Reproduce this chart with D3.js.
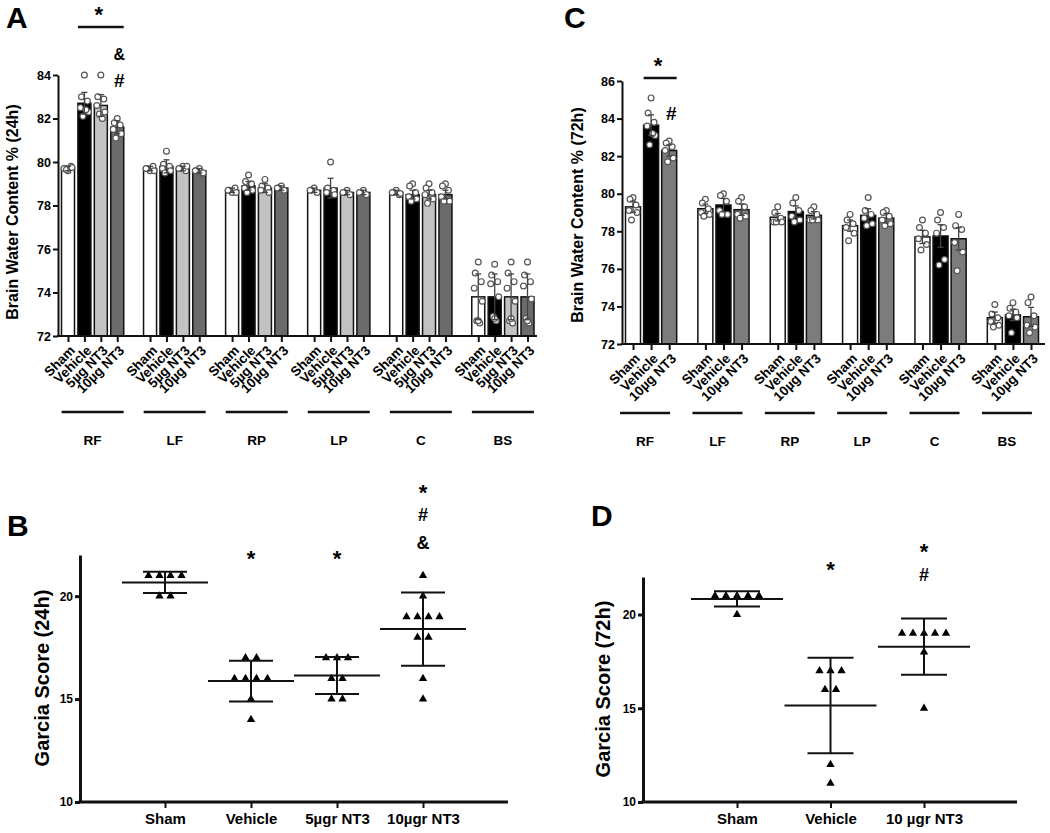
<!DOCTYPE html>
<html>
<head>
<meta charset="utf-8">
<script src="https://cdn.jsdelivr.net/npm/d3@7"></script>
<style>
  body { margin: 0; background: #fff; }
  text { font-family: Arial, "Liberation Sans", sans-serif; font-weight: bold; }
</style>
</head>
<body>
<div id="fig"></div>
<script>
// ---- data ----
var regions = ["RF", "LF", "RP", "LP", "C", "BS"];

var groups24 = ["Sham", "Vehicle", "5µg NT3", "10µg NT3"];
var means24 = [
  [79.7, 82.7, 82.6, 81.6],
  [79.7, 79.8, 79.7, 79.6],
  [78.7, 78.9, 78.8, 78.8],
  [78.7, 78.8, 78.6, 78.6],
  [78.6, 78.5, 78.5, 78.5],
  [73.8, 73.8, 73.8, 73.8]
];
var sds24 = [
  [0.1, 0.5, 0.5, 0.3],
  [0.1, 0.3, 0.1, 0.1],
  [0.1, 0.2, 0.2, 0.1],
  [0.1, 0.45, 0.1, 0.1],
  [0.1, 0.2, 0.2, 0.2],
  [1.05, 1.05, 1.05, 1.05]
];
var points24 = [
  [[79.6, 79.7, 79.8, 79.7, 79.75, 79.65], [84.0, 83.0, 82.8, 82.5, 82.3, 82.1, 82.4], [84.0, 83.0, 82.9, 82.6, 82.3, 82.2, 82.0], [82.0, 81.8, 81.7, 81.5, 81.3, 81.1]],
  [[79.6, 79.7, 79.8, 79.7, 79.6], [80.5, 79.9, 79.8, 79.7, 79.6, 79.5], [79.8, 79.7, 79.6, 79.7, 79.8], [79.7, 79.6, 79.5, 79.6, 79.5]],
  [[78.6, 78.7, 78.8, 78.7, 78.6], [79.4, 79.1, 79.0, 78.8, 78.7, 78.6], [79.2, 78.9, 78.8, 78.7, 78.6], [78.9, 78.8, 78.7, 78.8]],
  [[78.8, 78.7, 78.6, 78.7], [80.0, 78.8, 78.7, 78.6, 78.5], [78.7, 78.6, 78.5, 78.6], [78.7, 78.6, 78.5, 78.6]],
  [[78.7, 78.6, 78.5, 78.6, 78.55], [79.0, 78.9, 78.6, 78.4, 78.3, 78.2], [79.0, 78.8, 78.6, 78.5, 78.3, 78.1], [79.0, 78.9, 78.7, 78.4, 78.2, 78.2]],
  [[75.4, 74.9, 74.5, 74.2, 73.6, 72.7, 72.6, 72.7], [75.3, 74.8, 74.5, 74.4, 73.8, 72.9, 72.7, 72.8], [75.4, 74.9, 74.5, 74.2, 73.6, 72.7, 72.6, 72.8], [75.4, 74.8, 74.5, 74.3, 73.7, 72.8, 72.6, 72.7]]
];

var groups72 = ["Sham", "Vehicle", "10µg NT3"];
var means72 = [
  [79.3, 83.65, 82.3],
  [79.2, 79.4, 79.15],
  [78.75, 79.05, 78.85],
  [78.3, 78.85, 78.7],
  [77.7, 77.75, 77.6],
  [73.4, 73.55, 73.45]
];
var sds72 = [
  [0.3, 0.55, 0.3],
  [0.25, 0.35, 0.3],
  [0.2, 0.3, 0.2],
  [0.3, 0.35, 0.25],
  [0.35, 0.6, 0.6],
  [0.3, 0.3, 0.5]
];
var points72 = [
  [[79.8, 79.7, 79.4, 79.1, 79.0, 78.6], [85.1, 84.3, 83.8, 83.6, 83.1, 82.6, 83.2], [82.8, 82.7, 82.5, 82.3, 81.9, 81.7]],
  [[79.7, 79.5, 79.2, 79.0, 78.9, 78.8], [80.0, 79.9, 79.6, 79.1, 78.9, 78.9], [79.8, 79.6, 79.3, 78.9, 78.8, 78.7]],
  [[79.3, 79.0, 78.7, 78.5, 78.5, 78.5], [79.8, 79.5, 79.1, 78.8, 78.6, 78.5], [79.3, 79.1, 78.9, 78.6, 78.6, 78.6]],
  [[78.9, 78.6, 78.4, 78.2, 77.9, 77.5], [79.8, 79.1, 78.9, 78.7, 78.4, 78.3], [79.1, 79.0, 78.8, 78.6, 78.4, 78.3]],
  [[78.6, 78.2, 77.9, 77.6, 77.3, 77.0], [79.0, 78.6, 78.2, 77.9, 76.5, 76.2], [78.9, 78.3, 78.1, 77.4, 76.9, 75.9]],
  [[74.1, 73.6, 73.4, 73.2, 73.0, 72.9], [74.2, 73.9, 73.7, 73.5, 73.4, 72.6], [74.5, 74.2, 73.5, 73.0, 72.9, 72.6]]
];

var garciaGroups24 = ["Sham", "Vehicle", "5µgr NT3", "10µgr NT3"];
var garcia24 = [
  [21, 21, 21, 21, 20, 20],
  [17, 17, 16, 16, 16, 16, 15, 14],
  [17, 17, 17, 16, 16, 15, 15],
  [21, 20, 19, 19, 19, 19, 18, 18, 16, 15]
];
var garciaMarks24 = [[], ["*"], ["*"], ["*", "#", "&"]];

var garciaGroups72 = ["Sham", "Vehicle", "10 µgr NT3"];
var garcia72 = [
  [21, 21, 21, 21, 21, 20],
  [17, 17, 17, 16, 16, 12, 11],
  [19, 19, 19, 19, 19, 18, 15]
];
var garciaMarks72 = [[], ["*"], ["*", "#"]];

var yTicks24 = [72, 74, 76, 78, 80, 82, 84];
var yTicks72 = [72, 74, 76, 78, 80, 82, 84, 86];
var garciaTicks = [10, 15, 20];

// ---- drawing ----
var svg = d3.select("#fig").append("svg")
  .attr("width", 1050)
  .attr("height", 833);

var jitter = [0, -3, 3, -4, 4, -1.5, 1.5, 0];

function barPanel(o) {
  var nb = o.groups.length;
  var nSlots = regions.length * (nb + 1) - 1;
  var x = d3.scaleLinear().domain([0, nSlots - 1]).range(o.xRange);
  var y = d3.scaleLinear().domain(o.yDomain).range(o.yRange);
  var base = y(o.yDomain[0]);
  var g = svg.append("g");

  var rows = [];
  regions.forEach(function(reg, gi) {
    o.groups.forEach(function(name, bi) {
      rows.push({gi: gi, bi: bi, name: name, idx: gi * (nb + 1) + bi,
        mean: o.means[gi][bi], sd: o.sds[gi][bi], pts: o.points[gi][bi]});
    });
  });
  var nameByIdx = new Map(rows.map(d => [d.idx, d.name]));

  g.selectAll("rect.bar")
    .data(rows)
    .enter()
    .append("rect")
    .attr("class", "bar")
    .attr("x", d => x(d.idx) - o.barW / 2)
    .attr("y", d => y(d.mean))
    .attr("width", o.barW)
    .attr("height", d => base - y(d.mean))
    .attr("fill", d => o.colors[d.bi])
    .attr("stroke", "#111")
    .attr("stroke-width", 1.5);

  var pts = rows.flatMap(d => d.pts.map((v, j) => ({x: x(d.idx) + jitter[j % jitter.length], v: v})));
  g.selectAll("circle")
    .data(pts)
    .enter()
    .append("circle")
    .attr("cx", d => d.x)
    .attr("cy", d => y(d.v))
    .attr("r", 2.9)
    .attr("fill", "#fff")
    .attr("stroke", "#555")
    .attr("stroke-width", 1.2);

  var err = g.selectAll("g.err")
    .data(rows)
    .enter()
    .append("g")
    .attr("stroke", "#444")
    .attr("stroke-width", 1.3);
  err.append("line")
    .attr("x1", d => x(d.idx)).attr("x2", d => x(d.idx))
    .attr("y1", d => y(d.mean - d.sd)).attr("y2", d => y(d.mean + d.sd));
  err.append("line")
    .attr("x1", d => x(d.idx) - 3).attr("x2", d => x(d.idx) + 3)
    .attr("y1", d => y(d.mean + d.sd)).attr("y2", d => y(d.mean + d.sd));
  err.append("line")
    .attr("x1", d => x(d.idx) - 3).attr("x2", d => x(d.idx) + 3)
    .attr("y1", d => y(d.mean - d.sd)).attr("y2", d => y(d.mean - d.sd));

  // y axis
  var ya = g.append("g")
    .attr("transform", `translate(${o.axisX},0)`)
    .call(d3.axisLeft(y).tickValues(o.yTicks).tickSize(5).tickSizeOuter(0).tickPadding(2));
  ya.attr("font-size", 12.5);
  ya.selectAll("path, line").attr("stroke", "#111").attr("stroke-width", 2);

  // x axis
  var xa = g.append("g")
    .attr("transform", `translate(0,${base})`)
    .call(d3.axisBottom(x).tickValues(rows.map(d => d.idx)).tickFormat(i => nameByIdx.get(i)).tickSize(6).tickSizeOuter(0));
  xa.select(".domain").remove();
  xa.attr("font-size", 13.5);
  xa.selectAll("line").attr("stroke", "#111").attr("stroke-width", 2);
  xa.selectAll("text")
    .attr("x", 0).attr("y", 0).attr("dy", "0.35em")
    .attr("text-anchor", "end")
    .attr("transform", "translate(4,12) rotate(-45)");
  g.append("line")
    .attr("x1", o.axisX - 1).attr("x2", o.xEnd)
    .attr("y1", base).attr("y2", base)
    .attr("stroke", "#111").attr("stroke-width", 2);

  // region brackets and names
  regions.forEach(function(reg, gi) {
    var c = (x(gi * (nb + 1)) + x(gi * (nb + 1) + nb - 1)) / 2 + o.lineShift;
    g.append("line")
      .attr("x1", c - o.lineHalf).attr("x2", c + o.lineHalf)
      .attr("y1", o.lineY).attr("y2", o.lineY)
      .attr("stroke", "#111").attr("stroke-width", 2.5);
    g.append("text")
      .attr("x", c).attr("y", o.lineY + 33)
      .attr("text-anchor", "middle")
      .attr("font-size", 13.5)
      .text(reg);
  });

  // significance over RF
  var bx1 = x(1) - o.barW / 2, bx2 = x(nb - 1) + o.barW / 2;
  g.append("line")
    .attr("x1", bx1).attr("x2", bx2)
    .attr("y1", o.bracketY).attr("y2", o.bracketY)
    .attr("stroke", "#111").attr("stroke-width", 2.5);
  g.append("text")
    .attr("x", (bx1 + bx2) / 2 - 2).attr("y", o.bracketY - 5)
    .attr("text-anchor", "middle").attr("font-size", 22)
    .text("*");
  o.marks.forEach(function(m, k) {
    g.append("text")
      .attr("x", x(nb - 1) + 2).attr("y", o.markBase - k * 27)
      .attr("text-anchor", "middle")
      .attr("font-size", m === "&" ? 16 : 19)
      .text(m);
  });

  // y label + panel letter
  g.append("text")
    .attr("transform", `translate(${o.labelX},${o.labelY}) rotate(-90)`)
    .attr("text-anchor", "middle").attr("dy", "0.35em")
    .attr("font-size", 16)
    .text(o.yLabel);
  g.append("text")
    .attr("x", o.letterX).attr("y", 28)
    .attr("font-size", 30)
    .text(o.letter);
}

function scatterPanel(o) {
  var x = d3.scaleLinear().domain([0, o.groups.length - 1]).range(o.xRange);
  var y = d3.scaleLinear().domain(o.yDomain).range(o.yRange);
  var g = svg.append("g");

  var tri = [];
  o.values.forEach(function(vals, i) {
    var counts = d3.rollup(vals, v => v.length, v => v);
    var seen = new Map();
    vals.forEach(function(v) {
      var k = counts.get(v), j = seen.get(v) || 0;
      seen.set(v, j + 1);
      tri.push({x: x(i) + (j - (k - 1) / 2) * o.spread, y: y(v)});
    });
  });
  g.selectAll("path.tri")
    .data(tri)
    .enter()
    .append("path")
    .attr("transform", d => `translate(${d.x},${d.y})`)
    .attr("d", d3.symbol(d3.symbolTriangle, 30))
    .attr("fill", "#000");

  var stats = o.values.map((vals, i) => ({i: i, m: d3.mean(vals), s: d3.deviation(vals)}));
  var sg = g.selectAll("g.stat")
    .data(stats)
    .enter()
    .append("g")
    .attr("stroke", "#111")
    .attr("stroke-width", 2);
  sg.append("line")
    .attr("x1", d => x(d.i) - o.meanW / 2).attr("x2", d => x(d.i) + o.meanW / 2)
    .attr("y1", d => y(d.m)).attr("y2", d => y(d.m));
  sg.append("line")
    .attr("x1", d => x(d.i)).attr("x2", d => x(d.i))
    .attr("y1", d => y(d.m - d.s)).attr("y2", d => y(d.m + d.s));
  [1, -1].forEach(function(sign) {
    sg.append("line")
      .attr("x1", d => x(d.i) - o.capW / 2).attr("x2", d => x(d.i) + o.capW / 2)
      .attr("y1", d => y(d.m + sign * d.s)).attr("y2", d => y(d.m + sign * d.s));
  });

  var ya = g.append("g")
    .attr("transform", `translate(${o.axisX},0)`)
    .call(d3.axisLeft(y).tickValues(o.yTicks).tickSize(5).tickSizeOuter(0).tickPadding(2));
  ya.attr("font-size", 12);
  ya.selectAll("path, line").attr("stroke", "#111").attr("stroke-width", 3);

  var base = y(o.yDomain[0]);
  var xa = g.append("g")
    .attr("transform", `translate(0,${base})`)
    .call(d3.axisBottom(x).tickValues(d3.range(o.groups.length)).tickFormat(i => o.groups[i]).tickSize(6).tickSizeOuter(0).tickPadding(5));
  xa.select(".domain").remove();
  xa.attr("font-size", 15);
  xa.selectAll("line").attr("stroke", "#111").attr("stroke-width", 2);
  g.append("line")
    .attr("x1", o.axisX - 1.5).attr("x2", o.xEnd)
    .attr("y1", base).attr("y2", base)
    .attr("stroke", "#111").attr("stroke-width", 3);

  // significance marks above each group
  o.marks.forEach(function(list, i) {
    list.forEach(function(m, k) {
      var top = list.length === 1 ? o.singleMark : o.stackTop;
      g.append("text")
        .attr("x", x(i)).attr("y", top + k * o.markStep)
        .attr("text-anchor", "middle")
        .attr("font-size", m === "*" ? 22 : 18)
        .attr("dy", m === "*" ? "0.57em" : "0.36em")
        .text(m);
    });
  });

  g.append("text")
    .attr("transform", `translate(${o.labelX},${o.labelY}) rotate(-90)`)
    .attr("text-anchor", "middle").attr("dy", "0.35em")
    .attr("font-size", 20)
    .text(o.yLabel);
  g.append("text")
    .attr("x", o.letterX).attr("y", o.letterY)
    .attr("font-size", 30)
    .text(o.letter);
}

barPanel({
  letter: "A", letterX: 6,
  groups: groups24, means: means24, sds: sds24, points: points24,
  colors: ["#ffffff", "#000000", "#c2c2c2", "#6b6b6b"],
  xRange: [68, 527.5], yDomain: [72, 84], yRange: [336, 75], yTicks: yTicks24,
  axisX: 58, xEnd: 537, barW: 13,
  lineY: 412, lineHalf: 31, lineShift: 0,
  bracketY: 27, marks: ["#", "&"], markBase: 87,
  yLabel: "Brain Water Content % (24h)", labelX: 12, labelY: 212
});

barPanel({
  letter: "C", letterX: 564,
  groups: groups72, means: means72, sds: sds72, points: points72,
  colors: ["#ffffff", "#000000", "#7c7c7c"],
  xRange: [633, 1031], yDomain: [72, 86], yRange: [344, 81], yTicks: yTicks72,
  axisX: 622, xEnd: 1045, barW: 15,
  lineY: 413, lineHalf: 25, lineShift: -6,
  bracketY: 78, marks: ["#"], markBase: 120,
  yLabel: "Brain Water Content % (72h)", labelX: 577, labelY: 215
});

scatterPanel({
  letter: "B", letterX: 7, letterY: 536,
  groups: garciaGroups24, values: garcia24, marks: garciaMarks24,
  xRange: [165, 423], yDomain: [10, 22], yRange: [802, 555], yTicks: garciaTicks,
  axisX: 80, xEnd: 508, spread: 11, meanW: 86, capW: 44,
  singleMark: 553, stackTop: 487, markStep: 28,
  yLabel: "Garcia Score (24h)", labelX: 42, labelY: 678
});

scatterPanel({
  letter: "D", letterX: 591, letterY: 526,
  groups: garciaGroups72, values: garcia72, marks: garciaMarks72,
  xRange: [737, 924], yDomain: [10, 22], yRange: [802, 577], yTicks: garciaTicks,
  axisX: 643, xEnd: 1017, spread: 11, meanW: 92, capW: 46,
  singleMark: 564, stackTop: 546, markStep: 29,
  yLabel: "Garcia Score (72h)", labelX: 603, labelY: 689
});
</script>
</body>
</html>
